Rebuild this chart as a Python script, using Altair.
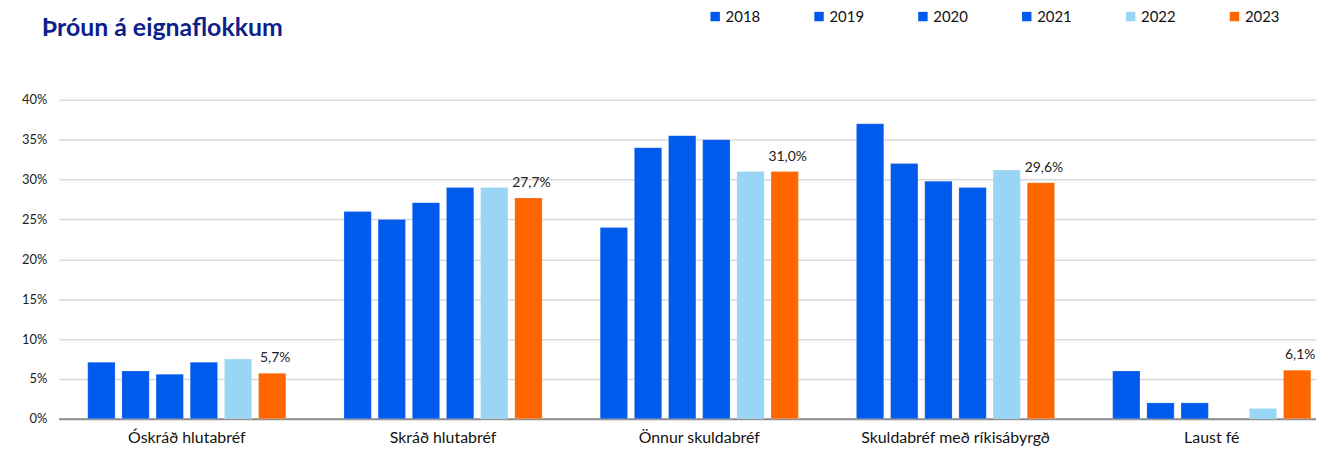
import altair as alt
import pandas as pd

categories = ["Óskráð hlutabréf", "Skráð hlutabréf", "Önnur skuldabréf",
              "Skuldabréf með ríkisábyrgð", "Laust fé"]
years = ["2018", "2019", "2020", "2021", "2022", "2023"]
v2018 = [7.1, 26.0, 24.0, 37.0, 6.0]
v2019 = [6.0, 25.0, 34.0, 32.0, 2.0]
v2020 = [5.6, 27.1, 35.5, 29.8, 2.0]
v2021 = [7.1, 29.0, 35.0, 29.0, 0.0]
v2022 = [7.5, 29.0, 31.0, 31.2, 1.3]
v2023 = [5.7, 27.7, 31.0, 29.6, 6.1]
colors = ["#005AEB", "#005AEB", "#005AEB", "#005AEB", "#99D6F5", "#FF6600"]
y_ticks = [0, 0.05, 0.10, 0.15, 0.20, 0.25, 0.30, 0.35, 0.40]

series = [v2018, v2019, v2020, v2021, v2022, v2023]
rows = []
for yr, vals in zip(years, series):
    for cat, v in zip(categories, vals):
        if v > 0:
            rows.append({"category": cat, "year": yr, "value": v / 100.0})
df = pd.DataFrame(rows)

FONT = "Lato"

base = alt.Chart(df).encode(
    x=alt.X("category:N", sort=categories,
            scale=alt.Scale(range=[0, 1289], paddingInner=0.2, paddingOuter=0.1),
            axis=alt.Axis(title=None, labelAngle=0, ticks=False, domain=True,
                          domainColor="#8c8c8c", domainWidth=2, labelFontSize=16,
                          labelColor="#111111", labelPadding=11, labelFont=FONT,
                          labelLimit=400)),
    xOffset=alt.XOffset("year:N", sort=years,
                        scale=alt.Scale(paddingInner=0.2, paddingOuter=0.1)),
    y=alt.Y("value:Q", scale=alt.Scale(domain=[0, 0.4], nice=False),
            axis=alt.Axis(title=None, values=y_ticks, format=".0%", domain=False,
                          ticks=False, gridColor="#d9d9d9", gridWidth=1.5,
                          labelFontSize=13, labelColor="#222222", labelPadding=12,
                          labelFont=FONT)),
)

bars = base.mark_bar(stroke="white", strokeWidth=0.5, strokeOpacity=0.4).encode(
    color=alt.Color("year:N", sort=years,
                    scale=alt.Scale(domain=years, range=colors),
                    legend=alt.Legend(orient="none", legendX=653, legendY=-91.5,
                                      direction="horizontal", columns=6, title=None,
                                      symbolType="square", symbolSize=90,
                                      symbolStrokeWidth=0, labelFontSize=15,
                                      labelFont=FONT, labelColor="#111111",
                                      labelOffset=3, columnPadding=51.5, padding=0))
)

labels = base.transform_filter(alt.datum.year == "2023").transform_calculate(
    lbl="replace(format(datum.value * 100, '.1f'), '.', ',') + '%'"
).mark_text(baseline="alphabetic", dy=-11, dx=3, fontSize=14, font=FONT,
            color="#222222").encode(text="lbl:N")

chart = alt.layer(bars, labels).properties(
    width=1265, height=321,
    title=alt.TitleParams("Þróun á eignaflokkum", anchor="start", frame="group",
                          fontSize=25, fontWeight="bold", color="#0d1f8a",
                          font=FONT, dx=-17, baseline="alphabetic", offset=0, dy=52),
    autosize=alt.AutoSizeParams(type="none"),
    padding={"left": 51, "top": 91, "right": 0, "bottom": 30},
).configure_view(stroke=None)

chart.save("out.html", embed_options={"renderer": "svg", "actions": False})
